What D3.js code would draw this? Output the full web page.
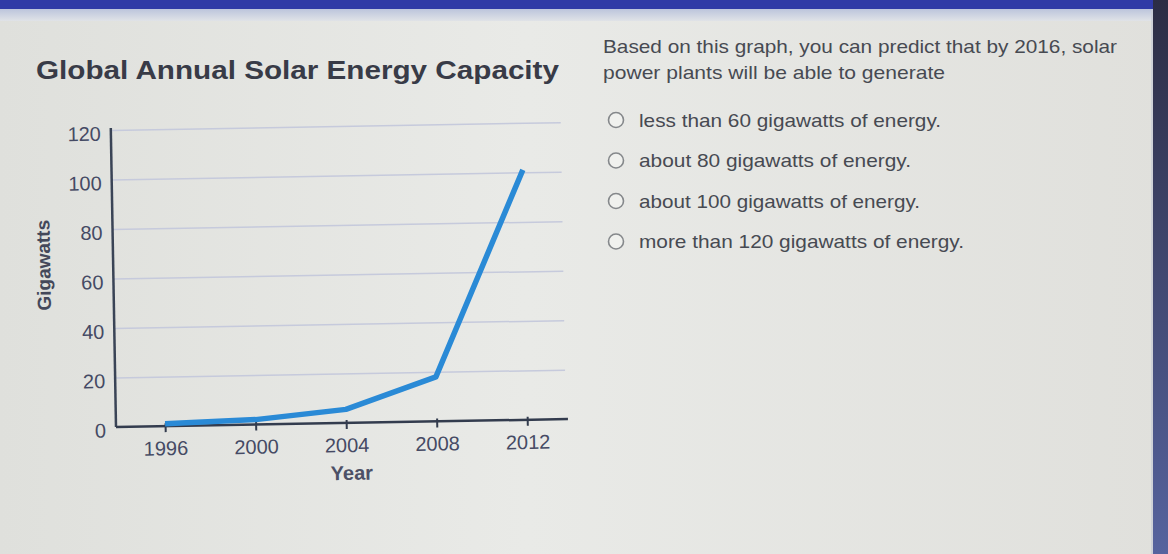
<!DOCTYPE html>
<html>
<head>
<meta charset="utf-8">
<script src="https://cdn.jsdelivr.net/npm/d3@7"></script>
<style>
  html, body { margin: 0; padding: 0; background: #e3e4e0; }
  svg { display: block; font-family: "Liberation Sans", Arial, sans-serif; }
</style>
</head>
<body>
<div id="chart"></div>
<script>
// values
var years = [1996, 2000, 2004, 2008, 2012];
var gigawatts = [1, 2, 5.5, 18, 101];
var yTicks = [0, 20, 40, 60, 80, 100, 120];
var xTicks = [1996, 2000, 2004, 2008, 2012];

var chartTitle = "Global Annual Solar Energy Capacity";
var xTitle = "Year";
var yTitle = "Gigawatts";
var question = ["Based on this graph, you can predict that by 2016, solar",
                "power plants will be able to generate"];
var options = ["less than 60 gigawatts of energy.",
               "about 80 gigawatts of energy.",
               "about 100 gigawatts of energy.",
               "more than 120 gigawatts of energy."];

var W = 1168, H = 554;
var plotL = 116, plotR = 568, plotB = 427, plotT = 130;

var svg = d3.select("#chart").append("svg")
    .attr("width", W)
    .attr("height", H);

// page background + screen frame
var defs = svg.append("defs");
var bg = defs.append("linearGradient").attr("id", "bg").attr("x1", 0).attr("x2", 1).attr("y1", 0).attr("y2", 0);
bg.append("stop").attr("offset", 0).attr("stop-color", "#dfe0dc");
bg.append("stop").attr("offset", 0.45).attr("stop-color", "#e9eae7");
bg.append("stop").attr("offset", 1).attr("stop-color", "#e0e0dc");
svg.append("rect").attr("width", W).attr("height", H).attr("fill", "url(#bg)");

var topg = defs.append("linearGradient").attr("id", "topstrip").attr("x1", 0).attr("x2", 0).attr("y1", 0).attr("y2", 1);
topg.append("stop").attr("offset", 0).attr("stop-color", "#bcc5dc");
topg.append("stop").attr("offset", 1).attr("stop-color", "#e0e3e7");
svg.append("rect").attr("x", 0).attr("y", 9).attr("width", W).attr("height", 12).attr("fill", "url(#topstrip)");
svg.append("rect").attr("x", 0).attr("y", 0).attr("width", W).attr("height", 9).attr("fill", "#2f3aa6");

var sideg = defs.append("linearGradient").attr("id", "side").attr("x1", 0).attr("x2", 0).attr("y1", 0).attr("y2", 1);
sideg.append("stop").attr("offset", 0).attr("stop-color", "#2c2d44");
sideg.append("stop").attr("offset", 1).attr("stop-color", "#56639e");
svg.append("rect").attr("x", 1153).attr("y", 0).attr("width", 15).attr("height", H).attr("fill", "url(#side)");
svg.append("line").attr("x1", 1152).attr("x2", 1152).attr("y1", 9).attr("y2", H)
    .attr("stroke", "#c9ccd6").attr("stroke-width", 1.5);

// title
svg.append("text")
    .attr("x", 36).attr("y", 79)
    .attr("font-size", 25).attr("font-weight", "bold")
    .attr("fill", "#383b47")
    .attr("textLength", 523).attr("lengthAdjust", "spacingAndGlyphs")
    .text(chartTitle);

// chart, slightly tilted like the photo
var g = svg.append("g")
    .attr("transform", "rotate(-1," + plotL + "," + plotB + ")");

var x = d3.scaleLinear().domain([1993.83, 2013.8]).range([plotL, plotR]);
var y = d3.scaleLinear().domain([0, 120]).range([plotB, plotT]);

// gridlines
g.append("g")
    .attr("transform", "translate(" + plotL + ",0)")
    .call(d3.axisRight(y).tickValues(yTicks.slice(1)).tickSize(566 - plotL).tickFormat(""))
    .call(function(s) {
      s.select(".domain").remove();
      s.selectAll("line").attr("stroke", "#c6cadc").attr("stroke-width", 1.5);
    });

// y axis
g.append("g")
    .attr("transform", "translate(" + plotL + ",0)")
    .call(d3.axisLeft(y).tickValues(yTicks).tickSize(0).tickPadding(10))
    .call(function(s) {
      s.select(".domain").attr("stroke", "#3a4456").attr("stroke-width", 2.5)
        .attr("d", "M0," + plotB + "V" + (plotT - 2));
      s.selectAll("text")
        .attr("font-size", 20).attr("fill", "#454a64")
        .attr("font-family", "Liberation Sans, Arial, sans-serif")
        .attr("dy", "0.5em");
    });

// x axis
g.append("g")
    .attr("transform", "translate(0," + plotB + ")")
    .call(d3.axisBottom(x).tickValues(xTicks).tickFormat(d3.format("d")).tickSize(6).tickPadding(9))
    .call(function(s) {
      s.select(".domain").attr("stroke", "#333c4e").attr("stroke-width", 2.5)
        .attr("d", "M" + plotL + ",0H" + plotR);
      s.selectAll(".tick line").attr("stroke", "#333c4e").attr("stroke-width", 2).attr("y1", -3);
      s.selectAll("text")
        .attr("font-size", 20).attr("fill", "#454a64")
        .attr("font-family", "Liberation Sans, Arial, sans-serif");
    });

// series
var line = d3.line()
    .x(function(d, i) { return x(years[i]); })
    .y(function(d) { return y(d); });

g.append("path")
    .datum(gigawatts)
    .attr("d", line)
    .attr("fill", "none")
    .attr("stroke", "#2a8ad6")
    .attr("stroke-width", 5.5)
    .attr("stroke-linejoin", "round")
    .attr("stroke-linecap", "butt");

// axis titles
g.append("text")
    .attr("x", 351).attr("y", 484)
    .attr("text-anchor", "middle")
    .attr("font-size", 20).attr("font-weight", "bold")
    .attr("fill", "#4c5066")
    .text(xTitle);

g.append("text")
    .attr("transform", "translate(53,264) rotate(-90)")
    .attr("text-anchor", "middle")
    .attr("font-size", 19).attr("font-weight", "bold")
    .attr("fill", "#44485a")
    .text(yTitle);

// question text
var q = svg.append("g").attr("fill", "#474a52").attr("font-size", 19);
var qWidths = [514, 342];
q.selectAll("text.q")
    .data(question)
    .enter().append("text")
      .attr("class", "q")
      .attr("x", 603)
      .attr("y", function(d, i) { return 53 + i * 26; })
      .attr("textLength", function(d, i) { return qWidths[i]; })
      .attr("lengthAdjust", "spacingAndGlyphs")
      .text(function(d) { return d; });

var oWidths = [302, 272, 281, 325];
var opt = q.selectAll("g.opt")
    .data(options)
    .enter().append("g")
      .attr("class", "opt")
      .attr("transform", function(d, i) { return "translate(0," + (120 + i * 40.5) + ")"; });

opt.append("circle")
    .attr("cx", 616).attr("cy", 0).attr("r", 7.5)
    .attr("fill", "#f0f1ee")
    .attr("stroke", "#85888b").attr("stroke-width", 1.6);

opt.append("text")
    .attr("x", 639).attr("y", 6.5)
    .attr("textLength", function(d, i) { return oWidths[i]; })
    .attr("lengthAdjust", "spacingAndGlyphs")
    .text(function(d) { return d; });
</script>
</body>
</html>
